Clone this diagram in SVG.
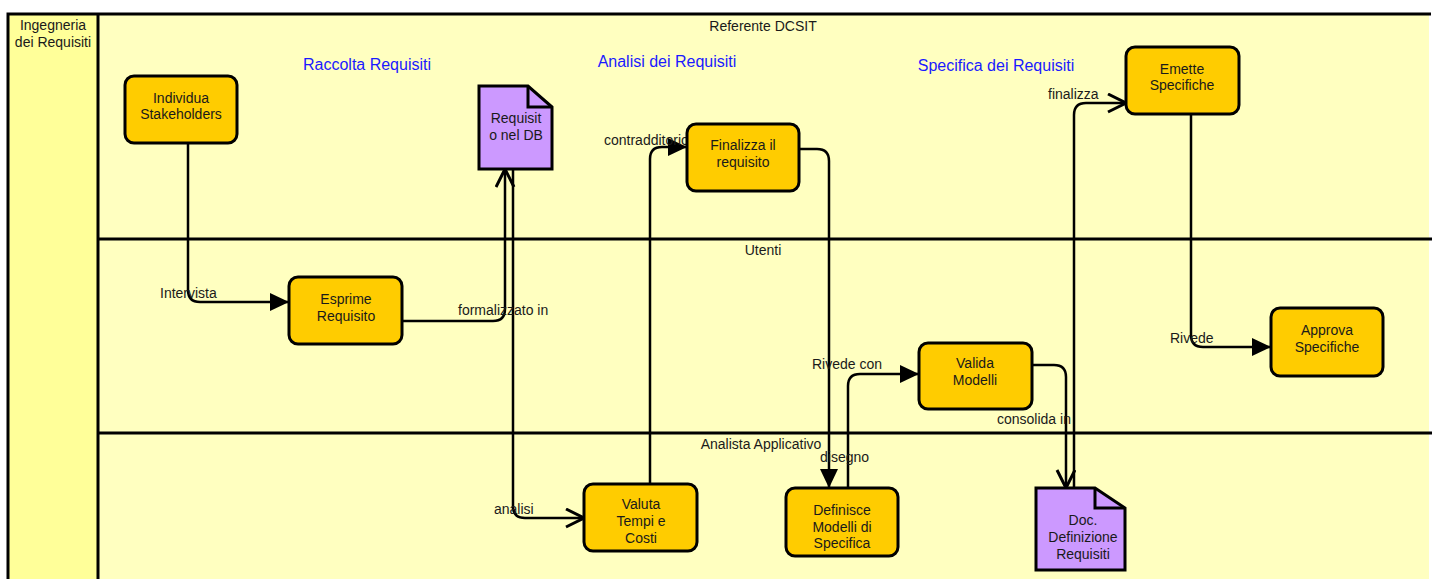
<svg xmlns="http://www.w3.org/2000/svg" width="1436" height="579" viewBox="0 0 1436 579">
<style>
text{font-family:"Liberation Sans",Arial,sans-serif;font-size:14px;fill:#1a1a1a}
.c{text-anchor:middle}
.ph{fill:#1a1aff;font-size:16px}
.task{fill:#FFCC00;stroke:#000;stroke-width:3}
.doc{fill:#CC99FF;stroke:#000;stroke-width:3;stroke-linejoin:miter}
.fold{fill:none;stroke:#000;stroke-width:3}
.ln{fill:none;stroke:#000;stroke-width:3}
.edge{fill:none;stroke:#000;stroke-width:2.5}
.f{marker-end:url(#af)}
.o{marker-end:url(#ao)}
</style>
<defs>
<marker id="af" markerUnits="userSpaceOnUse" markerWidth="22" markerHeight="20" refX="19" refY="9" orient="auto"><path d="M0,0 L19,9 L0,18 Z" fill="#000"/></marker>
<marker id="ao" markerUnits="userSpaceOnUse" markerWidth="22" markerHeight="22" refX="19" refY="10" orient="auto"><path d="M1,1 L19,10 L1,19" fill="none" stroke="#000" stroke-width="3"/></marker>
</defs>
<rect width="1436" height="579" fill="#fff"/>
<g id="pool">
<rect x="8" y="14" width="90" height="570" fill="#FFFF99"/>
<rect x="98" y="14" width="1331" height="570" fill="#FFFFC0"/>
<path class="ln" d="M8,584 V14 H1431 M98,14 V584 M98,239 H1432 M98,433 H1432"/>
<text class="c" x="53" y="30">Ingegneria</text>
<text class="c" x="53" y="47">dei Requisiti</text>
<text class="c" x="763" y="31">Referente DCSIT</text>
<text class="c" x="763" y="255">Utenti</text>
<text class="c" x="761" y="449">Analista Applicativo</text>
<text class="c ph" x="367" y="70">Raccolta Requisiti</text>
<text class="c ph" x="667" y="67">Analisi dei Requisiti</text>
<text class="c ph" x="996" y="71">Specifica dei Requisiti</text>
</g>
<g id="connectors">
<path class="edge f" d="M188,143 V290 Q188,302 200,302 H289"/>
<path class="edge o" d="M402,321 H493 Q505,321 505,309 V169"/>
<path class="edge o" d="M513,169 V506 Q513,518 525,518 H584"/>
<path class="edge f" d="M650,484 V159 Q650,147 662,147 H687"/>
<path class="edge f" d="M799,149 H817 Q829,149 829,161 V488"/>
<path class="edge f" d="M848,488 V386 Q848,374 860,374 H919"/>
<path class="edge o" d="M1032,365 H1054 Q1066,365 1066,377 V488"/>
<path class="edge o" d="M1074,488 V115 Q1074,103 1086,103 H1126"/>
<path class="edge f" d="M1191,114 V335 Q1191,347 1203,347 H1271"/>
<text x="160" y="298">Intervista</text>
<text x="458" y="315">formalizzato in</text>
<text x="494" y="514">analisi</text>
<text x="604" y="145">contradditorio</text>
<text x="820" y="462">disegno</text>
<text x="812" y="369">Rivede con</text>
<text x="997" y="424">consolida in</text>
<text x="1048" y="99">finalizza</text>
<text x="1170" y="343">Rivede</text>
</g>
<g id="individua">
<rect class="task" x="125" y="76" width="112" height="67" rx="9"/>
<text class="c" x="181" y="103">Individua</text>
<text class="c" x="181" y="119">Stakeholders</text>
</g>
<g id="esprime">
<rect class="task" x="289" y="277" width="113" height="67" rx="9"/>
<text class="c" x="346" y="304">Esprime</text>
<text class="c" x="346" y="321">Requisito</text>
</g>
<g id="requisitoDB">
<path class="doc" d="M479,86 H528 L552,107 V169 H479 Z"/>
<path class="fold" d="M528,86 V107 H552"/>
<text class="c" x="516" y="123">Requisit</text>
<text class="c" x="516" y="140">o nel DB</text>
</g>
<g id="finalizza">
<rect class="task" x="687" y="124" width="112" height="67" rx="9"/>
<text class="c" x="743" y="150">Finalizza il</text>
<text class="c" x="743" y="167">requisito</text>
</g>
<g id="valuta">
<rect class="task" x="584" y="484" width="113" height="67" rx="9"/>
<text class="c" x="641" y="509">Valuta</text>
<text class="c" x="641" y="526">Tempi e</text>
<text class="c" x="641" y="543">Costi</text>
</g>
<g id="valida">
<rect class="task" x="919" y="343" width="113" height="66" rx="9"/>
<text class="c" x="975" y="368">Valida</text>
<text class="c" x="975" y="385">Modelli</text>
</g>
<g id="definisce">
<rect class="task" x="786" y="488" width="112" height="68" rx="9"/>
<text class="c" x="842" y="515">Definisce</text>
<text class="c" x="842" y="532">Modelli di</text>
<text class="c" x="842" y="548">Specifica</text>
</g>
<g id="docDefinizione">
<path class="doc" d="M1036,488 H1095 L1125,508 V570 H1036 Z"/>
<path class="fold" d="M1095,488 V508 H1125"/>
<text class="c" x="1083" y="525">Doc.</text>
<text class="c" x="1083" y="542">Definizione</text>
<text class="c" x="1083" y="559">Requisiti</text>
</g>
<g id="emette">
<rect class="task" x="1126" y="47" width="113" height="67" rx="9"/>
<text class="c" x="1182" y="74">Emette</text>
<text class="c" x="1182" y="90">Specifiche</text>
</g>
<g id="approva">
<rect class="task" x="1271" y="308" width="112" height="68" rx="9"/>
<text class="c" x="1327" y="335">Approva</text>
<text class="c" x="1327" y="352">Specifiche</text>
</g>
</svg>
